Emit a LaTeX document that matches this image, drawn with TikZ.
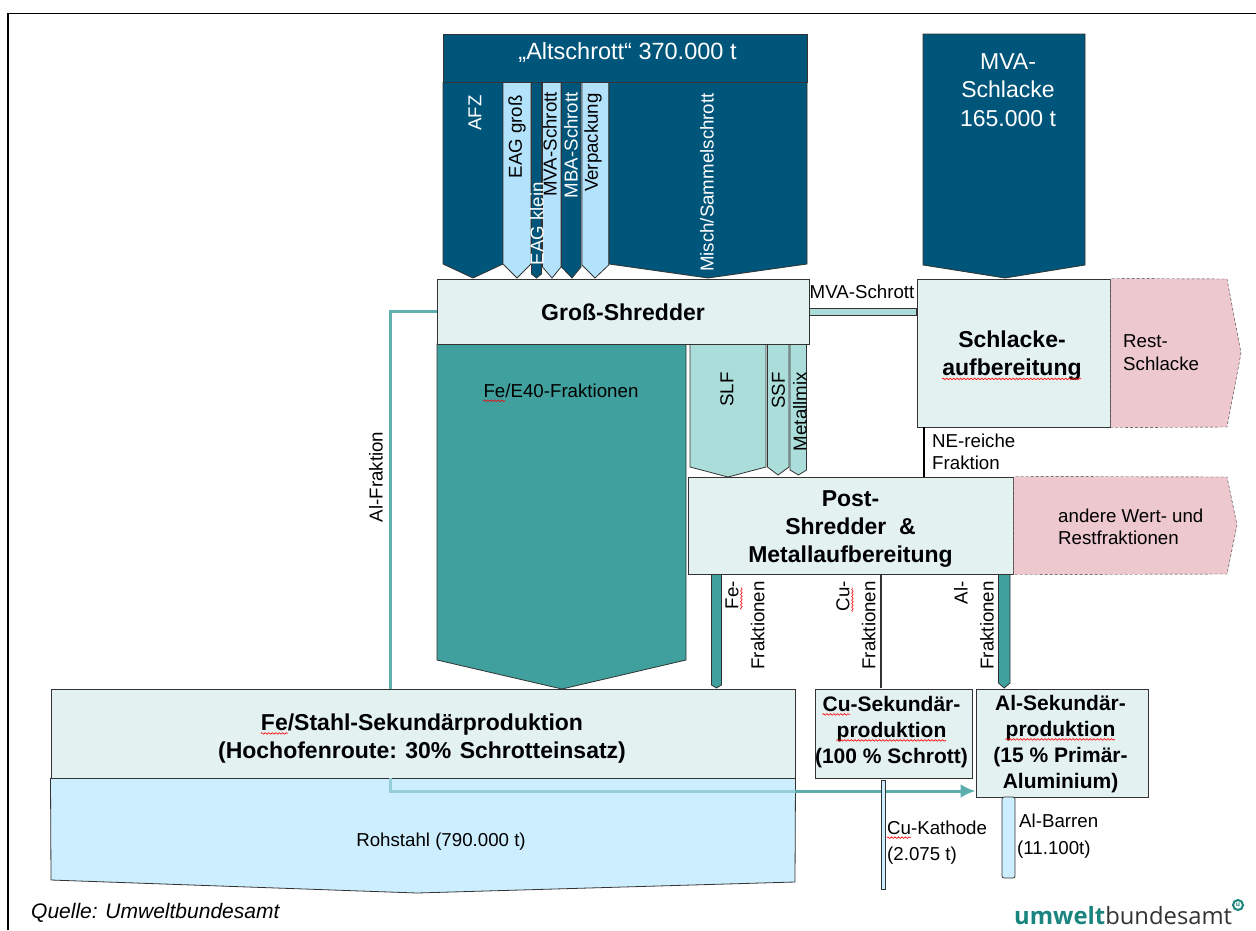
\documentclass[tikz,border=0pt]{standalone}
\usepackage{fontspec}
\setmainfont{Liberation Sans}
\newfontfamily\logofont{Open Sans}
\usetikzlibrary{arrows.meta}
\usetikzlibrary{decorations.pathmorphing}

\definecolor{darkblue}{HTML}{00557A}
\definecolor{lightblue}{HTML}{B3E3FC}
\definecolor{paleblue}{HTML}{CDEEFF}
\definecolor{darkteal}{HTML}{3FA09E}
\definecolor{lightteal}{HTML}{ABDEDB}
\definecolor{paleteal}{HTML}{E3F1F1}
\definecolor{palepink}{HTML}{EDC8CE}
\definecolor{edgegray}{HTML}{333333}
\definecolor{logoteal}{HTML}{1A857E}

\newsavebox{\wavybox}
\newcommand{\wavy}[1]{\sbox{\wavybox}{#1}\usebox{\wavybox}\smash{\llap{\tikz[baseline=3pt,x=1pt,y=1pt]
    \draw[red,line width=.6pt,decorate,decoration={snake,amplitude=.8pt,segment length=3.5pt}] (0,0) -- (\wd\wavybox,0);}}}

\tikzset{
    mainbox/.style={rectangle,draw=edgegray,fill=paleteal,line width=1pt,inner sep=0pt},
    maintext/.style={inner sep=0pt,align=center,font=\fontsize{23}{28}\selectfont\bfseries},
    smalltext/.style={maintext,font=\fontsize{21}{26}\selectfont\bfseries},
    label/.style={inner sep=0pt,align=left,font=\fontsize{18.7}{22}\selectfont},
    uplabel/.style={label,rotate=90,anchor=east},
    flowline/.style={draw=edgegray,line width=.8pt},
    restarrow/.style={densely dashed,draw=edgegray,fill=palepink}
}

\begin{document}
\begin{tikzpicture}[x=1pt,y=-1pt]
    \useasboundingbox (0,0) rectangle (1256,930);
    \draw[line width=2pt] (8.3,930) -- (8.3,13);
    \draw[line width=1.2pt] (7.3,13.3) -- (1256,13.3);

    \foreach \xa/\xb/\xt/\ya/\ys/\yt/\col in {443/503/473/82.5/264/278/darkblue,503/531/517/82.5/264/278/lightblue,
            531.5/541.5/536.5/82.5/274/278/darkblue,542.5/561/552/82.5/267/278/lightblue,
            561.5/581/572/82.5/267/278/darkblue,582/608.7/595/82.5/265/278/lightblue,
            609/807/708/82.5/264/278/darkblue,923/1085/1005/34/265/278/darkblue,
            690/766/728/344/467/477/lightteal,767.5/789/778/344/467/475/lightteal,790/806.5/798.5/344/470/475/lightteal,
            437/686/562/344/660/689/darkteal,711.5/721.5/716.5/574/685/688/darkteal,998.5/1010/1004.2/574/683/688/darkteal}
        \draw[flowline,fill=\col] (\xa,\ya) -- (\xb,\ya) -- (\xb,\ys) -- (\xt,\yt) -- (\xa,\ys) -- cycle;

    \node at (625,58) [mainbox,fill=darkblue,minimum width=364pt,minimum height=48pt] (altschrott) {};
    \node at (627.5,52) [inner sep=0pt,text=white,font=\fontsize{23.5}{28}\selectfont] (alttext) {„Altschrott“ 370.000 t};
    \node at (1008,90) [inner sep=0pt,align=center,text=white,font=\fontsize{23}{28.5}\selectfont] (mvatext) {MVA-\\Schlacke\\165.000 t};

    \node at (475,95) [uplabel,text=white] {AFZ};
    \node at (517,95) [uplabel] {EAG groß};
    \node at (550,92) [uplabel] {MVA-Schrott};
    \node at (537,182) [uplabel,text=white] {EAG klein};
    \node at (571,92) [uplabel,text=white] {MBA-Schrott};
    \node at (593,93) [uplabel] {Verpackung};
    \node at (707,93) [uplabel,text=white] {Misch/Sammelschrott};

    \node at (623,311.5) [mainbox,minimum width=372pt,minimum height=65pt] (shredder) {};
    \node at (1013.5,353) [mainbox,minimum width=193pt,minimum height=148pt] (schlacke) {};
    \node at (850.5,525.5) [mainbox,minimum width=325pt,minimum height=97pt] (post) {};
    \node at (423,733.5) [mainbox,minimum width=744pt,minimum height=89pt] (festahl) {};
    \node at (893.5,733.5) [mainbox,minimum width=157pt,minimum height=89pt] (cusek) {};
    \node at (1062,743) [mainbox,minimum width=172pt,minimum height=108pt] (alsek) {};

    \node at (623,312.5) [maintext] {Groß-Shredder};
    \node at (1012,356) [maintext] {Schlacke-\\\wavy{aufbereitung}};
    \node at (850.5,529.5) [maintext] {Post-\\Shredder~~\&\\Metallaufbereitung};
    \node at (422,738.5) [maintext] {\wavy{Fe}/Stahl-Sekundärproduktion\\(Hochofenroute:~\kern2pt 30\%~\kern2pt Schrotteinsatz)};
    \node at (891.5,732) [smalltext] {\wavy{Cu}-Sekundär-\\\wavy{produktion}\\(100~\%~Schrott)};
    \node at (1060.5,744) [smalltext] {Al-Sekundär-\\\wavy{produktion}\\(15~\%~Primär-\\Aluminium)};

    \draw[flowline,fill=lightteal] (shredder.east |- 0,308) rectangle (schlacke.west |- 0,315);
    \draw[line width=2pt] (924,427) -- (924,477);

    \draw[restarrow] (schlacke.south east) -- (schlacke.north east) -- (1227,279) -- (1241,353) -- (1227,427) -- cycle;
    \draw[restarrow] (post.south east) -- (post.north east) -- (1227,477) -- (1237,525) -- (1227,574) -- cycle;
    \node at (1123,341) [label,anchor=west] {Rest-};
    \node at (1123,364) [label,anchor=west] {Schlacke};
    \node at (1058,516) [label,anchor=west] {andere Wert- und};
    \node at (1058,538) [label,anchor=west] {Restfraktionen};

    \draw[flowline,fill=paleblue] (festahl.south west) -- (51,880) -- (417,893) -- (795,882) -- (festahl.south east) -- cycle;
    \node at (441,842) [label] {Rohstahl (790.000 t)};

    \draw[line width=3pt,darkteal!40!paleblue] (390,778) -- (390,791) -- (795,791);
    \draw[line width=3pt,darkteal!85!white,-{Latex[length=15pt,width=14pt]}] (795,791) -- (alsek.west |- 0,791);
    \draw[line width=3pt,darkteal!80!paleteal] (shredder.west) -- (390,311.5) -- (390,689);
    \node at (376,477) [label,rotate=90] {Al-Fraktion};

    \draw[line width=2.5pt,draw=edgegray] (881,574) -- (881,688);
    \foreach \x/\A in {745/\wavy{Fe}-,856/\wavy{Cu}-,974/Al-}
        \node at (\x,581) [label,rotate=90,anchor=east,align=right,font=\fontsize{18.7}{26}\selectfont] {\A\\Fraktionen};

    \draw[flowline,fill=paleblue] (881,780) rectangle (885,889);
    \draw[flowline,fill=paleblue,rounded corners=2pt] (1002,797) rectangle (1015,878);
    \node at (887,828) [label,anchor=west] {\wavy{Cu}-Kathode};
    \node at (887,856) [label,anchor=west] {(2.075 t)};
    \node at (1019,821) [label,anchor=west] {Al-Barren};
    \node at (1017,850) [label,anchor=west] {(11.100t)};

    \node at (862,292) [label] {MVA-Schrott};
    \node at (932,441) [label,anchor=west] {NE-reiche};
    \node at (932,463) [label,anchor=west] {Fraktion};
    \node at (561,391) [label] {\wavy{Fe}/E40-Fraktionen};
    \node at (727,372) [uplabel] {SLF};
    \node at (778.5,372) [uplabel] {SSF};
    \node at (800,372) [uplabel] {Metallmix};

    \node at (31,913) [label,anchor=west,font=\fontsize{21}{24}\selectfont\itshape] {Quelle: Umweltbundesamt};
    \node at (1014,916) [inner sep=0pt,anchor=west,font=\fontsize{23.8}{28}\logofont] (logo) {\textcolor{logoteal}{\bfseries umwelt}\textcolor{edgegray}{bundesamt}};
    \node at (1238,905) [circle,draw=logoteal,line width=2pt,minimum size=10pt,inner sep=0pt,text=logoteal,font=\fontsize{6.5}{7}\logofont\bfseries] (logomark) {u};
\end{tikzpicture}
\end{document}
